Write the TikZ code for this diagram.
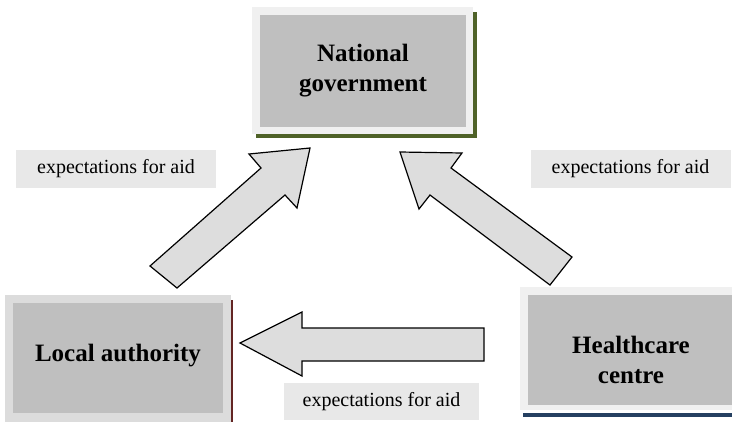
\documentclass[tikz,border=0pt]{standalone}
\usepackage{fontspec}
\setmainfont{Liberation Serif}
\definecolor{frameA}{HTML}{F0F0F0}
\definecolor{frameB}{HTML}{DCDCDC}
\definecolor{innergray}{HTML}{BFBFBF}
\definecolor{shgreen}{HTML}{4F6228}
\definecolor{shred}{HTML}{632523}
\definecolor{shblue}{HTML}{254061}
\definecolor{labelgray}{HTML}{E8E8E8}
\definecolor{arrowfill}{HTML}{DDDDDD}
\tikzset{
  inner/.style={fill=innergray, draw=none},
  boxtext/.style={font=\bfseries\fontsize{25}{30}\selectfont, align=center, text=black},
  lbl/.style={fill=labelgray, draw=none, minimum width=200pt, minimum height=38pt, inner sep=0pt, font=\fontsize{20}{24}\selectfont, text=black},
  blockarrow/.style={fill=arrowfill, draw=black, line width=1.2pt, line join=miter}
}
\begin{document}
\begin{tikzpicture}[x=1pt,y=-1pt]
\useasboundingbox (0,0) rectangle (732,421);
\clip (0,0) rectangle (732,421);
% National government
\fill[shgreen] (256,12) rectangle (477,138);
\fill[frameA] (252,7) rectangle (473,134);
\fill[innergray] (260,15) rectangle (466,127);
\node[boxtext] (ng) at (363,71) {National\\government};
% Local authority
\fill[shred] (9,300) rectangle (233,430);
\fill[frameB] (5,295) rectangle (231,428);
\fill[innergray] (13,303) rectangle (223,413);
\node[boxtext] (la) at (118,356) {Local authority};
% Healthcare centre
\fill[shblue] (523,413) rectangle (740,417);
\fill[frameA] (520,287) rectangle (740,410);
\fill[innergray] (528,295) rectangle (740,405);
\node[boxtext] (hc) at (631,360) {Healthcare\\centre};
% labels
\node[lbl] (l1) at (116,169) {expectations for aid};
\node[lbl] (l2) at (630.5,169) {expectations for aid};
\node[lbl, minimum width=195pt, minimum height=37pt] (l3) at (381.5,401.5) {expectations for aid};
% block arrows
\draw[blockarrow] (150,266) -- (261,168) -- (249,154) -- (310,148) -- (297,208) -- (285,195) -- (177,288) -- cycle;
\draw[blockarrow] (572,257) -- (451,168) -- (462,153) -- (400,152) -- (419,209) -- (430,195) -- (550,285) -- cycle;
\draw[blockarrow] (484,328) -- (302,328) -- (302,312) -- (240,343) -- (302,376) -- (302,361) -- (484,361) -- cycle;
\end{tikzpicture}
\end{document}
